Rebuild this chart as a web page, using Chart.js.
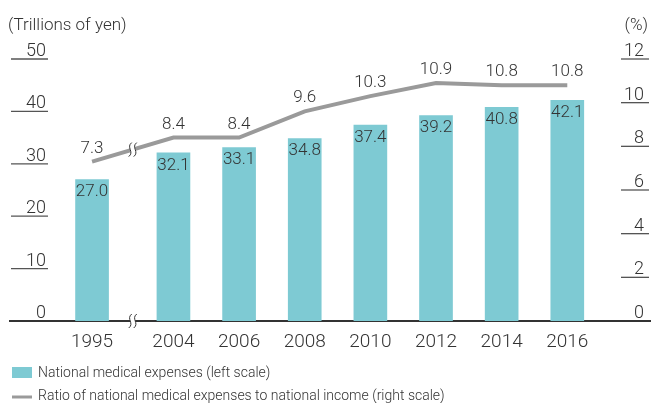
<!DOCTYPE html>
<html>
<head>
<meta charset="utf-8">
<script src="https://cdn.jsdelivr.net/npm/chart.js@4/dist/chart.umd.min.js"></script>
<style>
  html, body { margin: 0; padding: 0; background: #fff; }
  #wrap { width: 651px; height: 403px; position: relative; }
</style>
</head>
<body>
<div id="wrap"><canvas id="chart"></canvas></div>
<script>
const years = ['1995', '2004', '2006', '2008', '2010', '2012', '2014', '2016'];
const medicalExpenses = [27.0, 32.1, 33.1, 34.8, 37.4, 39.2, 40.8, 42.1];
const incomeRatio = [7.3, 8.4, 8.4, 9.6, 10.3, 10.9, 10.8, 10.8];
const leftTicks = [0, 10, 20, 30, 40, 50];
const rightTicks = [0, 2, 4, 6, 8, 10, 12];

const barColor = '#7ecad3';
const lineColor = '#9a9a9a';
const textColor = '#333';
const fontFamily = 'Roboto, "Liberation Sans", Arial, sans-serif';
const light = '300 ';

// extra room on the x axis for the break between 1995 and 2004
const breakGap = 0.24;
const xPos = years.map((y, i) => i === 0 ? 0 : i + breakGap);

function drawBreak(ctx, x, y) {
    const h = 7;
    const wave = (dx) => {
        ctx.beginPath();
        ctx.moveTo(x + dx + 1.5, y - h);
        ctx.bezierCurveTo(x + dx - 4.5, y - h / 3, x + dx + 4.5, y + h / 3, x + dx - 1.5, y + h);
    };
    ctx.save();
    ctx.strokeStyle = '#fff';
    ctx.lineWidth = 5;
    wave(0);
    ctx.stroke();
    ctx.strokeStyle = textColor;
    ctx.lineWidth = 1;
    wave(-2.5);
    ctx.stroke();
    wave(2.5);
    ctx.stroke();
    ctx.restore();
}

const extras = {
    id: 'extras',
    afterDraw(chart) {
        const ctx = chart.ctx;
        const x = chart.scales.x;
        const yL = chart.scales.y;
        const yR = chart.scales.y1;
        ctx.save();

        // axis titles
        ctx.fillStyle = textColor;
        ctx.font = light + '17px ' + fontFamily;
        ctx.textBaseline = 'alphabetic';
        ctx.textAlign = 'left';
        ctx.fillText('(Trillions of yen)', 8, 30);
        ctx.textAlign = 'right';
        ctx.fillText('(%)', 648, 30);

        // tick marks with labels sitting on them
        ctx.font = light + '18px ' + fontFamily;
        ctx.strokeStyle = '#555';
        ctx.lineWidth = 1.3;
        leftTicks.forEach(v => {
            const py = yL.getPixelForValue(v);
            if (v !== 0) {
                ctx.beginPath();
                ctx.moveTo(11, py);
                ctx.lineTo(48, py);
                ctx.stroke();
            }
            ctx.fillText(String(v), 46, py - 3);
        });
        rightTicks.forEach(v => {
            const py = yR.getPixelForValue(v);
            if (v !== 0) {
                ctx.beginPath();
                ctx.moveTo(621, py);
                ctx.lineTo(649, py);
                ctx.stroke();
            }
            ctx.fillText(String(v), 644, py - 3);
        });

        // value labels
        ctx.font = light + '17px ' + fontFamily;
        ctx.textAlign = 'center';
        ctx.textBaseline = 'top';
        medicalExpenses.forEach((v, i) => {
            ctx.fillText(v.toFixed(1), x.getPixelForValue(xPos[i]), yL.getPixelForValue(v) + 4);
        });
        ctx.textBaseline = 'alphabetic';
        incomeRatio.forEach((v, i) => {
            ctx.fillText(v.toFixed(1), x.getPixelForValue(xPos[i]), yR.getPixelForValue(v) - 9);
        });

        // break marks between 1995 and 2004
        const bx = x.getPixelForValue((xPos[0] + xPos[1]) / 2);
        drawBreak(ctx, bx, yL.getPixelForValue(0));
        const by = (yR.getPixelForValue(incomeRatio[0]) + yR.getPixelForValue(incomeRatio[1])) / 2;
        drawBreak(ctx, bx, by);

        // legend
        ctx.font = light + '14px ' + fontFamily;
        ctx.textAlign = 'left';
        ctx.textBaseline = 'middle';
        ctx.fillStyle = barColor;
        ctx.fillRect(12, 367, 20, 11);
        ctx.fillStyle = textColor;
        ctx.fillText('National medical expenses (left scale)', 38, 373);
        ctx.strokeStyle = lineColor;
        ctx.lineWidth = 3;
        ctx.beginPath();
        ctx.moveTo(12, 397);
        ctx.lineTo(32, 397);
        ctx.stroke();
        ctx.fillText('Ratio of national medical expenses to national income (right scale)', 38, 396);

        ctx.restore();
    }
};

new Chart(document.getElementById('chart').getContext('2d'), {
    type: 'bar',
    data: {
        datasets: [
            {
                type: 'line',
                label: 'Ratio of national medical expenses to national income (right scale)',
                data: incomeRatio.map((v, i) => ({ x: xPos[i], y: v })),
                yAxisID: 'y1',
                borderColor: lineColor,
                borderWidth: 4,
                pointRadius: 0,
                tension: 0,
                order: 0
            },
            {
                label: 'National medical expenses (left scale)',
                data: medicalExpenses.map((v, i) => ({ x: xPos[i], y: v })),
                yAxisID: 'y',
                backgroundColor: barColor,
                borderWidth: 0,
                barThickness: 33,
                order: 1
            }
        ]
    },
    options: {
        responsive: true,
        maintainAspectRatio: false,
        animation: false,
        layout: { padding: { top: 59, left: 10, right: 1, bottom: 0 } },
        plugins: {
            legend: { display: false },
            tooltip: { enabled: false }
        },
        scales: {
            x: {
                type: 'linear',
                min: -1.25,
                max: 8.5,
                offset: false,
                grid: { display: false },
                border: { display: true, color: '#333', width: 2 },
                afterBuildTicks: (scale) => { scale.ticks = xPos.map(v => ({ value: v })); },
                afterFit: (scale) => { scale.height = 82; },
                ticks: {
                    autoSkip: false,
                    maxRotation: 0,
                    padding: 2,
                    color: textColor,
                    font: { family: fontFamily, size: 19, weight: 300 },
                    callback: (value) => years[xPos.indexOf(value)]
                }
            },
            y: { display: false, min: 0, max: 50 },
            y1: { display: false, min: 0, max: 12, position: 'right' }
        }
    },
    plugins: [extras]
});
</script>
</body>
</html>
